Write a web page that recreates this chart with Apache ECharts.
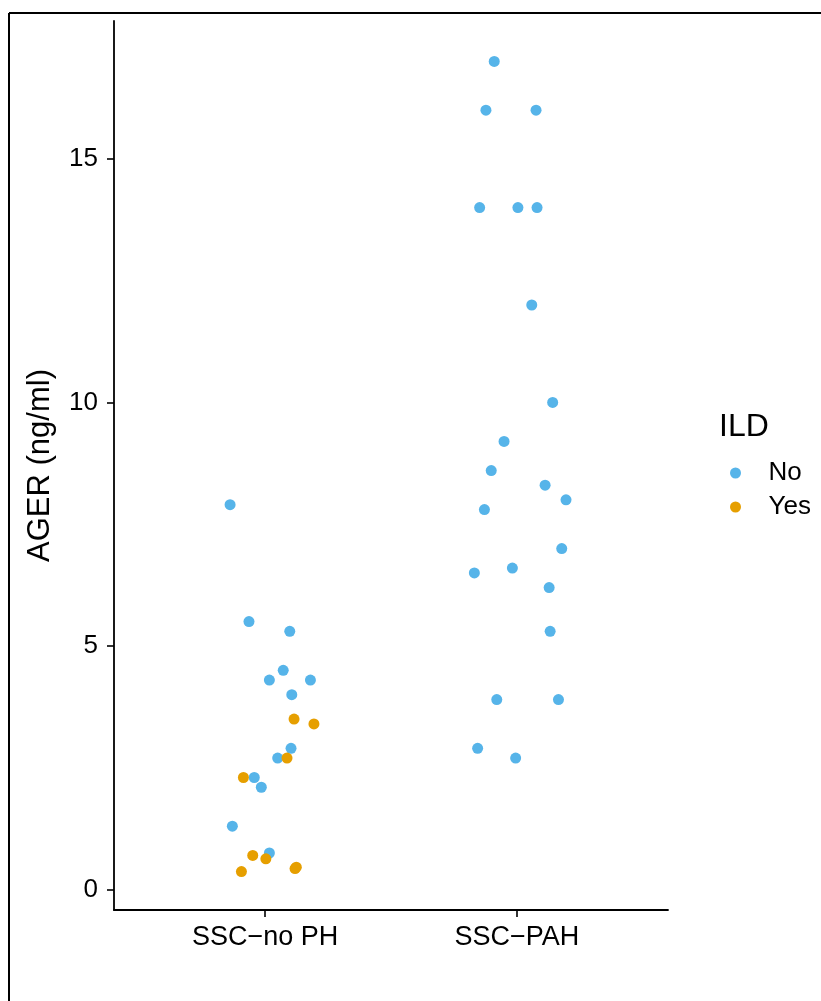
<!DOCTYPE html>
<html>
<head>
<meta charset="utf-8">
<script src="https://cdn.jsdelivr.net/npm/echarts@6/dist/echarts.min.js"></script>
<style>
  html, body { margin: 0; padding: 0; background: #fff; }
  #chart { width: 821px; height: 1001px; }
</style>
</head>
<body>
<div id="chart"></div>
<script>
// Groups on the x axis (positions 1 and 2)
const categories = ['SSC\u2212no PH', 'SSC\u2212PAH'];
const yTicks = [0, 5, 10, 15];

// AGER (ng/ml) per group and ILD status, with the horizontal jitter of each point
const noPhNoValues  = [7.9, 5.5, 5.3, 4.5, 4.3, 4.3, 4.0, 2.9, 2.7, 2.3, 2.1, 1.3, 0.75];
const noPhNoJitter  = [-0.139, -0.064, 0.098, 0.072, 0.017, 0.180, 0.106, 0.103, 0.050, -0.043, -0.015, -0.130, 0.017];
const noPhYesValues = [3.5, 3.4, 2.7, 2.3, 0.70, 0.63, 0.37, 0.43, 0.46];
const noPhYesJitter = [0.115, 0.194, 0.087, -0.086, -0.049, 0.003, -0.094, 0.119, 0.124];
const pahNoValues   = [17.0, 16.0, 16.0, 14.0, 14.0, 14.0, 12.0, 10.0, 9.2, 8.6, 8.3, 8.0, 7.8, 7.0, 6.6, 6.5, 6.2, 5.3, 3.9, 3.9, 2.9, 2.7];
const pahNoJitter   = [-0.090, -0.123, 0.076, -0.148, 0.004, 0.080, 0.059, 0.142, -0.051, -0.102, 0.112, 0.195, -0.129, 0.178, -0.018, -0.169, 0.128, 0.132, -0.080, 0.165, -0.156, -0.005];

const ildLevels = ['No', 'Yes'];
const ildColors = ['#56B4E9', '#E69F00'];

function points(groupPos, values, jitter) {
  return values.map((v, i) => [groupPos + jitter[i], v]);
}

const dataNo = points(1, noPhNoValues, noPhNoJitter).concat(points(2, pahNoValues, pahNoJitter));
const dataYes = points(1, noPhYesValues, noPhYesJitter);

const FONT = '"Liberation Sans", Arial, Helvetica, sans-serif';
const chart = echarts.init(document.getElementById('chart'), null, { renderer: 'canvas' });

chart.setOption({
  animation: false,
  backgroundColor: '#ffffff',
  textStyle: { fontFamily: FONT },
  grid: { left: 114, right: 153, top: 21, bottom: 91, containLabel: false },
  title: {
    text: 'ILD',
    left: 719,
    top: 411,
    padding: 0,
    textStyle: { fontFamily: FONT, fontSize: 32, fontWeight: 'normal', color: '#000' }
  },
  legend: {
    data: ildLevels,
    orient: 'vertical',
    left: 730,
    top: 460,
    padding: 0,
    itemGap: 8,
    itemWidth: 56,
    itemHeight: 11,
    icon: 'circle',
    selectedMode: false,
    textStyle: { fontFamily: FONT, fontSize: 26, color: '#000', lineHeight: 26 }
  },
  xAxis: {
    type: 'value',
    min: 0.4,
    max: 2.6,
    splitLine: { show: false },
    axisLine: { show: true, onZero: false, lineStyle: { color: '#000', width: 1.8 } },
    axisTick: { show: true, length: 7, customValues: [1, 2], lineStyle: { color: '#000', width: 1.6 } },
    axisLabel: {
      customValues: [1, 2],
      formatter: v => categories[Math.round(v) - 1],
      margin: 14,
      fontFamily: FONT,
      fontSize: 27,
      color: '#000'
    }
  },
  yAxis: {
    type: 'value',
    min: -0.42,
    max: 17.83,
    name: 'AGER (ng/ml)',
    nameLocation: 'middle',
    nameGap: 58,
    nameTextStyle: { fontFamily: FONT, fontSize: 31, color: '#000' },
    splitLine: { show: false },
    axisLine: { show: true, onZero: false, lineStyle: { color: '#000', width: 1.8 } },
    axisTick: { show: true, length: 7, customValues: yTicks, lineStyle: { color: '#000', width: 1.6 } },
    axisLabel: {
      customValues: yTicks,
      margin: 16,
      fontFamily: FONT,
      fontSize: 26,
      color: '#000'
    }
  },
  series: [
    {
      name: 'No',
      type: 'scatter',
      data: dataNo,
      symbol: 'circle',
      symbolSize: 11,
      itemStyle: { color: ildColors[0], opacity: 1 },
      emphasis: { disabled: true }
    },
    {
      name: 'Yes',
      type: 'scatter',
      data: dataYes,
      symbol: 'circle',
      symbolSize: 11,
      itemStyle: { color: ildColors[1], opacity: 1 },
      emphasis: { disabled: true }
    }
  ],
  graphic: [
    // outer frame along the top and left edges
    { type: 'line', shape: { x1: 9, y1: 13, x2: 821, y2: 13 }, style: { stroke: '#000', lineWidth: 2 }, silent: true },
    { type: 'line', shape: { x1: 9, y1: 13, x2: 9, y2: 1001 }, style: { stroke: '#000', lineWidth: 2 }, silent: true }
  ]
});
</script>
</body>
</html>
